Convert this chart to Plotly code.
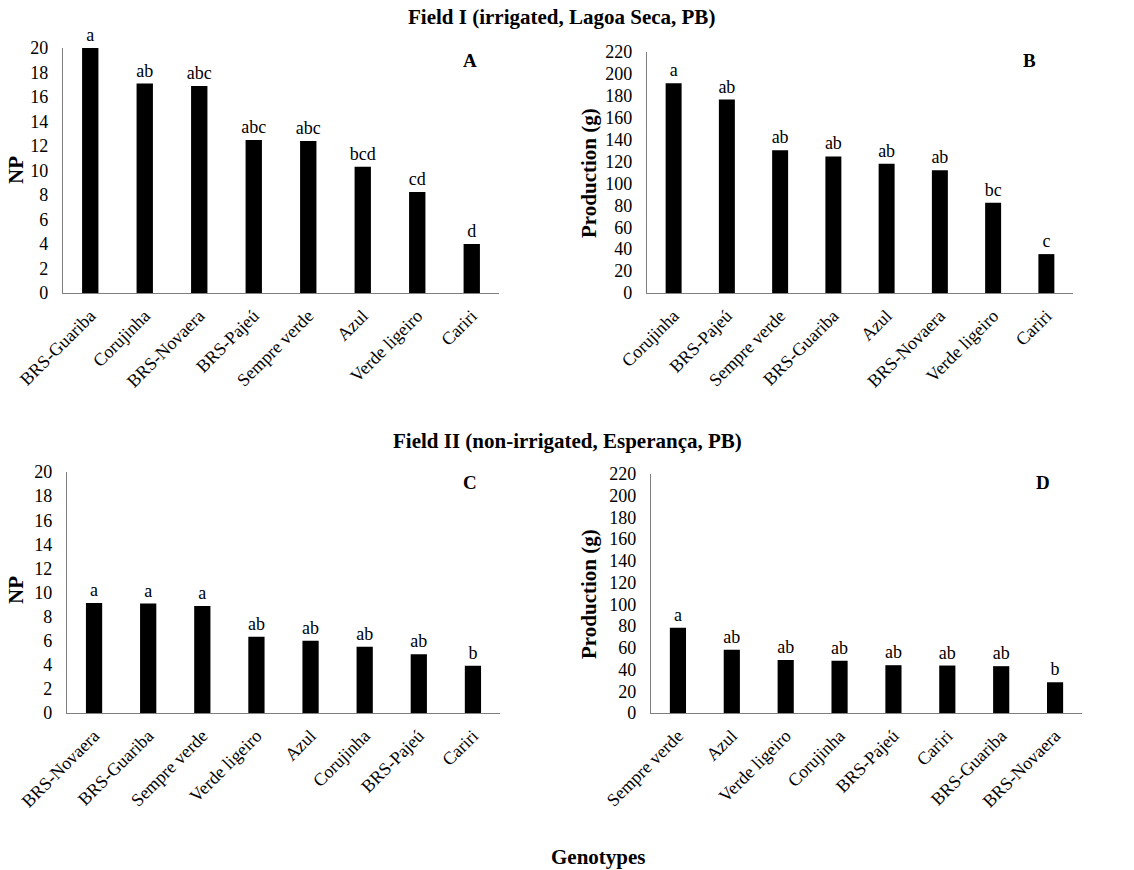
import plotly.graph_objects as go

# Panel A: Field I, NP
a_cats = ["BRS-Guariba", "Corujinha", "BRS-Novaera", "BRS-Pajeú", "Sempre verde", "Azul", "Verde ligeiro", "Cariri"]
a_vals = [20.0, 17.1, 16.9, 12.5, 12.4, 10.3, 8.25, 4.0]
a_letters = ["a", "ab", "abc", "abc", "abc", "bcd", "cd", "d"]

# Panel B: Field I, Production (g)
b_cats = ["Corujinha", "BRS-Pajeú", "Sempre verde", "BRS-Guariba", "Azul", "BRS-Novaera", "Verde ligeiro", "Cariri"]
b_vals = [191.5, 176.6, 130.2, 124.7, 118.1, 112.0, 82.5, 35.5]
b_letters = ["a", "ab", "ab", "ab", "ab", "ab", "bc", "c"]

# Panel C: Field II, NP
c_cats = ["BRS-Novaera", "BRS-Guariba", "Sempre verde", "Verde ligeiro", "Azul", "Corujinha", "BRS-Pajeú", "Cariri"]
c_vals = [9.13, 9.08, 8.88, 6.32, 5.99, 5.49, 4.88, 3.92]
c_letters = ["a", "a", "a", "ab", "ab", "ab", "ab", "b"]

# Panel D: Field II, Production (g)
d_cats = ["Sempre verde", "Azul", "Verde ligeiro", "Corujinha", "BRS-Pajeú", "Cariri", "BRS-Guariba", "BRS-Novaera"]
d_vals = [78.5, 58.2, 48.9, 48.0, 44.0, 43.7, 43.1, 28.3]
d_letters = ["a", "ab", "ab", "ab", "ab", "ab", "ab", "b"]

np_ticks = list(range(0, 21, 2))
prod_ticks = list(range(0, 221, 20))

FONT = "Liberation Serif"
W, H = 1134, 870

def px_x(x):
    return x / W

def px_y(y):
    return 1 - y / H

panels = [
    (a_cats, a_vals, a_letters, "x", "y", (63, 499), (48, 293), [0, 20], np_ticks),
    (b_cats, b_vals, b_letters, "x2", "y2", (647, 1073), (52, 293), [0, 220], prod_ticks),
    (c_cats, c_vals, c_letters, "x3", "y3", (67, 500), (472, 713), [0, 20], np_ticks),
    (d_cats, d_vals, d_letters, "x4", "y4", (651, 1082), (474, 713), [0, 220], prod_ticks),
]

fig = go.Figure()
layout = {}
for i, (cats, vals, letters, xa, ya, xr, yr, rng, ticks) in enumerate(panels):
    fig.add_trace(go.Bar(
        x=cats, y=vals, text=letters, textposition="outside",
        textfont=dict(family=FONT, size=18, color="black"),
        constraintext="none",
        marker=dict(color="black", line=dict(width=0)),
        xaxis=xa, yaxis=ya, cliponaxis=False, showlegend=False,
    ))
    suffix = "" if i == 0 else str(i + 1)
    layout["xaxis" + suffix] = dict(
        domain=[px_x(xr[0]), px_x(xr[1])], anchor=ya,
        showline=True, linecolor="#7f7f7f", linewidth=1.3,
        ticks="", tickangle=-45, showgrid=False, automargin=False,
        ticklabelstandoff=4,
        tickfont=dict(family=FONT, size=18, color="black"),
        type="category",
    )
    layout["yaxis" + suffix] = dict(
        domain=[px_y(yr[1]), px_y(yr[0])], anchor=xa,
        range=rng, tickvals=ticks, showline=True, linecolor="#7f7f7f",
        linewidth=1.3, ticks="", showgrid=False, zeroline=False,
        automargin=False, ticklabelstandoff=10,
        tickfont=dict(family=FONT, size=18, color="black"),
    )

fig.update_layout(**layout)
fig.update_layout(
    width=W, height=H, bargap=0.7,
    margin=dict(l=0, r=0, t=0, b=0, autoexpand=False),
    paper_bgcolor="white", plot_bgcolor="white",
    font=dict(family=FONT, color="black"),
)

annos = [
    ("<b>Field I (irrigated, Lagoa Seca, PB)</b>", 561, 17, 21, 0),
    ("<b>Field II (non-irrigated, Esperança, PB)</b>", 567, 441, 21, 0),
    ("<b>Genotypes</b>", 598, 857, 21, 0),
    ("<b>A</b>", 470, 61, 19, 0),
    ("<b>B</b>", 1029, 60, 19, 0),
    ("<b>C</b>", 470, 482, 19, 0),
    ("<b>D</b>", 1043, 482, 19, 0),
    ("<b>NP</b>", 16, 170, 21, -90),
    ("<b>Production (g)</b>", 589, 173, 21, -90),
    ("<b>NP</b>", 16, 590, 21, -90),
    ("<b>Production (g)</b>", 589, 594, 21, -90),
]
for text, x, y, size, ang in annos:
    fig.add_annotation(
        text=text, x=px_x(x), y=px_y(y), xref="paper", yref="paper",
        xanchor="center", yanchor="middle", showarrow=False, textangle=ang,
        font=dict(family=FONT, size=size, color="black"),
    )

fig.write_html(
    "out.html",
    config={"displayModeBar": False},
    post_script="document.body.style.margin='0';document.body.style.overflow='hidden';",
)
